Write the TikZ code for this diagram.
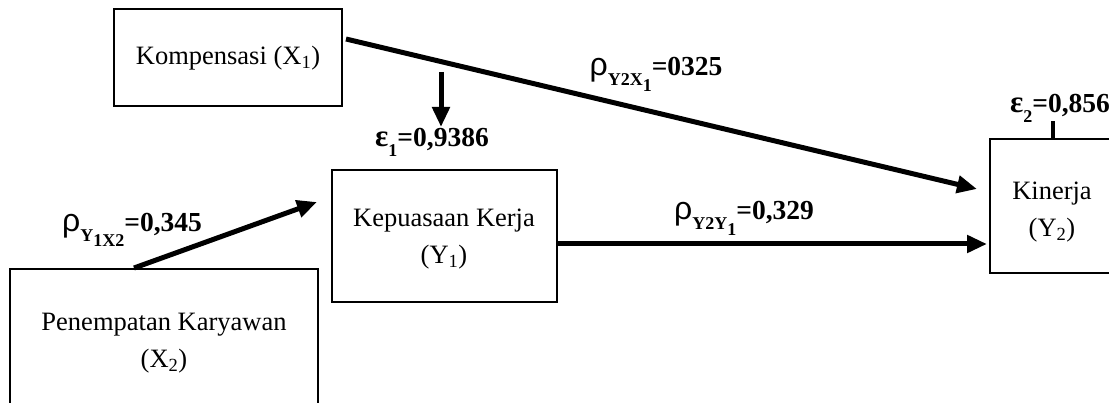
\documentclass[tikz,border=0pt]{standalone}
\usepackage{fontspec}
\setmainfont{Liberation Serif}
\newfontfamily\rhofont{Liberation Sans}
\usetikzlibrary{arrows.meta,calc}
\newcommand\lsub[2][0.36em]{\raisebox{-#1}{\fontsize{18}{18}\selectfont #2}}
\newcommand\rh{{\fontsize{32}{32}\selectfont\rhofont\mdseries ρ}}
\newcommand\eps{{\fontsize{31}{31}\selectfont ε}}
\begin{document}
\begin{tikzpicture}[x=1pt,y=-1pt,
 box/.style={draw, line width=2pt, inner sep=0pt},
 txt/.style={font=\fontsize{26.5}{37}\selectfont, align=center, inner sep=0pt},
 lbl/.style={font=\fontsize{27.5}{30}\selectfont\bfseries, inner sep=0pt, anchor=base},
 arr/.style={line width=5pt, -{Triangle[length=20pt,width=17pt]}},
]
\useasboundingbox (0,0) rectangle (1109,403);
\clip (0,0) rectangle (1109,403);
% boxes
\node[box, minimum width=228pt, minimum height=97pt] (komp) at (228,57.5) {};
\node[box, minimum width=225pt, minimum height=132pt] (kep) at (444.5,236) {};
\node[box, minimum width=308pt, minimum height=160pt] (pen) at (164,349) {};
\node[box, minimum width=140pt, minimum height=134pt] (kin) at (1060,206) {};
% texts
\node[txt] (kompT) at (228,58) {Kompensasi (X\textsubscript{1})};
\node[txt] (kepT) at (444,239) {Kepuasaan Kerja\\(Y\textsubscript{1})};
\node[txt] (penT) at (164,343) {Penempatan Karyawan\\(X\textsubscript{2})};
\node[txt] (kinT) at (1052,212) {Kinerja\\(Y\textsubscript{2})};
% connectors
\coordinate (d1) at (441,72);
\coordinate (d2) at (441,127);
\draw[arr] ($(komp.north east)+(3,31)$) -- ($(kin.north west)+(-12,51)$);
\draw[arr] (d1) -- (d2);
\draw[arr] ($(pen.north west)+(125,0)$) -- ($(kep.north west)+(-14,33)$);
\draw[arr] ($(kep.north east)+(0,75)$) -- ($(kin.north west)+(-2,106)$);
\draw[line width=4pt] ($(kin.north west)+(64,0)$) -- ($(kin.north west)+(64,-17)$);
% labels
\node[lbl] (e1) at (432,147) {\eps\lsub{1}=0,9386};
\node[lbl] (e2) at (1060,113) {\eps\lsub{2}=0,856};
\node[lbl] (r1) at (656,76) {\rh\lsub{Y2X\lsub[0.3em]{1}}=0325};
\node[lbl] (r2) at (744,220) {\rh\lsub{Y2Y\lsub[0.3em]{1}}=0,329};
\node[lbl] (r3) at (132,232) {\rh\lsub{Y\lsub[0.25em]{1X2}}=0,345};
\end{tikzpicture}
\end{document}
